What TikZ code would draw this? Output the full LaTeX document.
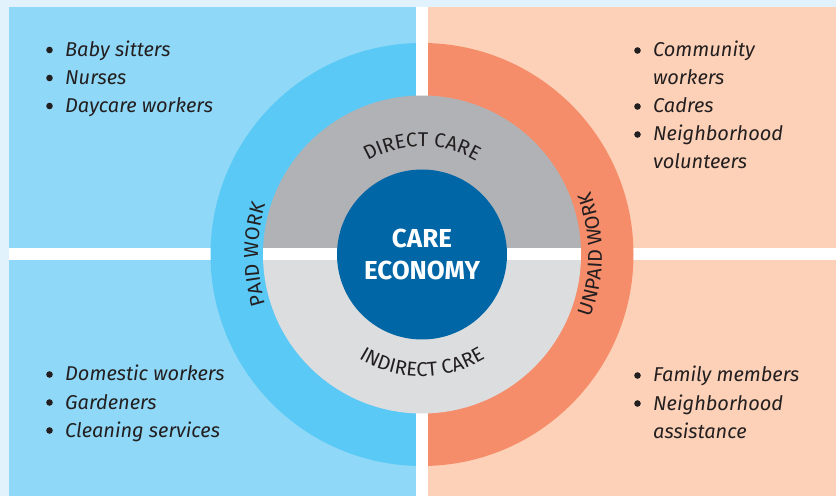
\documentclass[tikz,border=0pt]{standalone}
\usepackage{fontspec}
\setmainfont{Fira Sans}
\usepackage{xcolor}
\definecolor{bgstrip}{RGB}{225,242,252}
\definecolor{paidpanel}{RGB}{143,216,247}
\definecolor{paidring}{RGB}{91,201,245}
\definecolor{unpaidpanel}{RGB}{253,209,183}
\definecolor{unpaidring}{RGB}{245,141,107}
\definecolor{directgray}{RGB}{177,178,181}
\definecolor{indirectgray}{RGB}{220,221,223}
\definecolor{hubblue}{RGB}{0,102,166}
\definecolor{ink}{RGB}{35,31,32}
\usepackage{tikz}
\usetikzlibrary{positioning,decorations.text}
\newcommand{\ringfont}{\fontsize{20}{20}\selectfont}
\tikzset{
  %% bullet items in the four panels (base = last line)
  item/.style={anchor=base west, inner sep=0pt, align=left, text=ink,
               font=\fontsize{20}{28}\selectfont\itshape},
  %% labels running round the rings
  ringlabel/.style={decorate,
               decoration={text along path, text align=center, text color=ink}},
  %% the centre disc
  hubdisc/.style={circle, fill=hubblue, minimum size=170pt, inner sep=0pt,
               text=white, align=center,
               font=\fontsize{26}{32}\selectfont\bfseries},
}

\begin{document}
\begin{tikzpicture}[x=1pt,y=1pt]
\useasboundingbox (0,0) rectangle (836,496);
%% backdrop and the four panels
\fill[bgstrip] (0,0) rectangle (836,496);
\fill[white] (9,0) rectangle (836,489);
\fill[paidpanel] (9,247.5) rectangle (416,489);
\fill[paidpanel] (9,0) rectangle (416,235.5);
\fill[unpaidpanel] (428,247.5) rectangle (836,489);
\fill[unpaidpanel] (428,0) rectangle (836,235.5);
\coordinate (hub) at (422,241.5);
%% outer ring: paid / unpaid
\fill[paidring] ([shift={(90:211.5)}]hub) arc[start angle=90,end angle=270,radius=211.5] -- cycle;
\fill[unpaidring] ([shift={(-90:211.5)}]hub) arc[start angle=-90,end angle=90,radius=211.5] -- cycle;
\fill[white] (416,0) rectangle (428,489);
%% middle ring: direct / indirect care
\fill[directgray] ([shift={(0:159)}]hub) arc[start angle=0,end angle=180,radius=159] -- cycle;
\fill[indirectgray] ([shift={(180:159)}]hub) arc[start angle=180,end angle=360,radius=159] -- cycle;
\begin{scope}
  \clip (hub) circle (159);
  \fill[white] (0,235.5) rectangle (836,247.5);
\end{scope}
\node[hubdisc] (econ) at (hub) {CARE\\ECONOMY};
%% ring labels
\path[ringlabel, decoration={text={|\ringfont|DIRECT CARE}}]
  ([shift={(150:108)}]hub) arc[start angle=150,end angle=30,radius=108];
\path[ringlabel, decoration={text={|\ringfont|INDIRECT CARE}}]
  ([shift={(210:122)}]hub) arc[start angle=210,end angle=330,radius=122];
\path[ringlabel, decoration={text={|\ringfont|PAID WORK}}]
  ([shift={(220:164)}]hub) arc[start angle=220,end angle=140,radius=164];
\path[ringlabel, decoration={text={|\ringfont|UNPAID WORK}}]
  ([shift={(-40:180)}]hub) arc[start angle=-40,end angle=40,radius=180];
%% paid work
\node[item] (babysit) at (65,439.5) {Baby sitters};
\node[item] (nurses) at (65,411.5) {Nurses};
\node[item] (daycare) at (65,383.5) {Daycare workers};
\node[item] (domestic) at (65,115) {Domestic workers};
\node[item] (gardeners) at (65,87) {Gardeners};
\node[item] (cleaning) at (65,59) {Cleaning services};
%% unpaid work
\node[item] (community) at (653,411) {Community\\workers};
\node[item] (cadres) at (653,383) {Cadres};
\node[item] (neighvol) at (653,327) {Neighborhood\\volunteers};
\node[item] (family) at (653,114) {Family members};
\node[item] (neighassist) at (653,58) {Neighborhood\\assistance};
%% bullets
\foreach \n in {babysit,nurses,daycare,domestic,gardeners,cleaning,cadres,family}
  \fill[ink] ([xshift=-15.5pt,yshift=6.5pt]\n.base west) circle (3.3pt);
\foreach \n in {community,neighvol,neighassist}
  \fill[ink] ([xshift=-15.5pt,yshift=34.5pt]\n.base west) circle (3.3pt);
\end{tikzpicture}
\end{document}
